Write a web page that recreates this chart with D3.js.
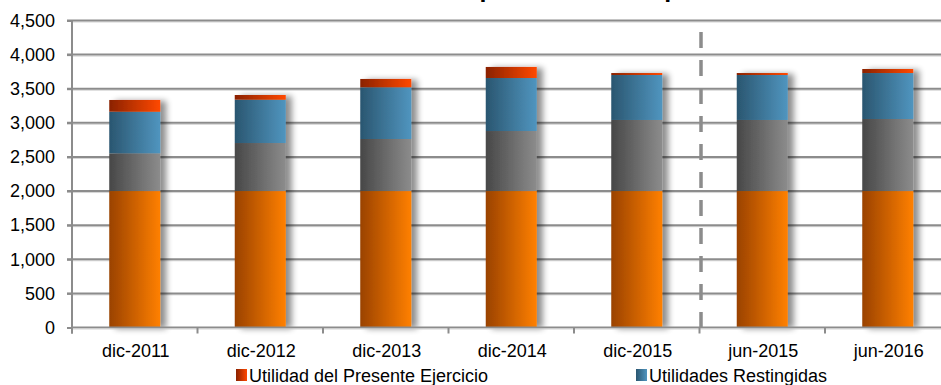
<!DOCTYPE html>
<html>
<head>
<meta charset="utf-8">
<script src="https://cdn.jsdelivr.net/npm/d3@7"></script>
<style>
  html, body { margin: 0; padding: 0; background: #fff; }
  svg { display: block; font-family: "Liberation Sans", Arial, sans-serif; }
</style>
</head>
<body>
<div id="chart"></div>
<script>
// Capital contable - stacked bars

const categories = ["dic-2011", "dic-2012", "dic-2013", "dic-2014", "dic-2015", "jun-2015", "jun-2016"];
const capitalSocial = [2000, 2000, 2000, 2000, 2000, 2000, 2000];
const reservas = [553, 704, 763, 880, 1042, 1042, 1056];
const utilidadesRestingidas = [610, 635, 758, 777, 659, 659, 674];
const utilidadEjercicio = [172, 69, 122, 162, 29, 29, 59];
const yTicks = [0, 500, 1000, 1500, 2000, 2500, 3000, 3500, 4000, 4500];
const seriesKeys = ["capital", "reservas", "restringidas", "ejercicio"];
const legendItems = [
  { key: "ejercicio", label: "Utilidad del Presente Ejercicio" },
  { key: "restringidas", label: "Utilidades Restingidas" }
];

const width = 941, height = 385;
const plotLeft = 72, plotTop = 20.5, plotBottom = 327.5;
const step = 125.5;

const rows = categories.map((c, i) => ({
  cat: c,
  capital: capitalSocial[i],
  reservas: reservas[i],
  restringidas: utilidadesRestingidas[i],
  ejercicio: utilidadEjercicio[i]
}));

const svg = d3.select("#chart").append("svg")
  .attr("width", width)
  .attr("height", height);

const defs = svg.append("defs");

// gradients, dark on the left, bright on the right
const grads = {
  capital: ["#9a4200", "#ff8000"],
  reservas: ["#474747", "#8c8c8c"],
  restringidas: ["#2a5670", "#5095bf"],
  ejercicio: ["#8a2200", "#ff4800"]
};
Object.entries(grads).forEach(([k, c]) => {
  const g = defs.append("linearGradient")
    .attr("id", "g-" + k)
    .attr("x1", "0%").attr("x2", "100%").attr("y1", "0%").attr("y2", "0%");
  g.append("stop").attr("offset", "0%").attr("stop-color", c[0]);
  g.append("stop").attr("offset", "100%").attr("stop-color", c[1]);
});

const shadow = defs.append("filter").attr("id", "shadow")
  .attr("x", "-20%").attr("y", "-10%").attr("width", "160%").attr("height", "130%");
shadow.append("feGaussianBlur").attr("in", "SourceAlpha").attr("stdDeviation", 3);
shadow.append("feOffset").attr("dx", 6).attr("dy", 1).attr("result", "off");
shadow.append("feComponentTransfer").append("feFuncA").attr("type", "linear").attr("slope", 0.45);
const merge = shadow.append("feMerge");
merge.append("feMergeNode");
merge.append("feMergeNode").attr("in", "SourceGraphic");

const x = d3.scaleBand()
  .domain(categories)
  .range([plotLeft, plotLeft + step * categories.length])
  .padding(0);

const y = d3.scaleLinear()
  .domain([0, 4500])
  .range([plotBottom, plotTop]);

const barW = 51;

// title (mostly cut off at the top of the picture, only descenders show)
svg.append("text")
  .attr("x", 424)
  .attr("y", -3)
  .attr("font-size", "25px")
  .attr("font-weight", "bold")
  .attr("fill", "#000")
  .text("Composición del Capital Contable");

// gridlines
const grid = svg.append("g");
grid.selectAll("line.sh")
  .data(yTicks.filter(d => d > 0))
  .join("line")
  .attr("class", "sh")
  .attr("x1", plotLeft).attr("x2", width)
  .attr("y1", d => y(d) + 1.5).attr("y2", d => y(d) + 1.5)
  .attr("stroke", "#d4d4d4").attr("stroke-width", 1);
grid.selectAll("line.gl")
  .data(yTicks.filter(d => d > 0))
  .join("line")
  .attr("class", "gl")
  .attr("x1", plotLeft - 5).attr("x2", width)
  .attr("y1", d => y(d)).attr("y2", d => y(d))
  .attr("stroke", "#8c8c8c").attr("stroke-width", 2);

// y axis
const yAxis = svg.append("g")
  .attr("transform", `translate(${plotLeft},0)`)
  .call(d3.axisLeft(y).tickValues(yTicks).tickSize(5).tickPadding(12)
    .tickFormat(d3.format(",")));
yAxis.select(".domain").attr("stroke", "#8c8c8c").attr("stroke-width", 2)
  .attr("d", `M0,${plotTop}V${plotBottom + 6}`);
yAxis.selectAll(".tick line").attr("stroke", "#8c8c8c").attr("stroke-width", 2);
yAxis.selectAll(".tick text")
  .attr("font-size", "18px")
  .attr("font-family", "Liberation Sans, Arial, sans-serif")
  .attr("fill", "#000");

// bars
const stack = d3.stack().keys(seriesKeys)(rows);
const bars = svg.append("g");
const groups = bars.selectAll("g.bar")
  .data(categories)
  .join("g")
  .attr("class", "bar")
  .attr("filter", "url(#shadow)");
groups.each(function(cat, i) {
  const g = d3.select(this);
  stack.forEach(s => {
    const d = s[i];
    g.append("rect")
      .attr("x", x(cat) + x.bandwidth() / 2 - barW / 2)
      .attr("width", barW)
      .attr("y", y(d[1]))
      .attr("height", y(d[0]) - y(d[1]))
      .attr("fill", "url(#g-" + s.key + ")");
  });
});

// x axis
const xAxisG = svg.append("g");
xAxisG.append("line")
  .attr("x1", plotLeft).attr("x2", width)
  .attr("y1", plotBottom).attr("y2", plotBottom)
  .attr("stroke", "#8c8c8c").attr("stroke-width", 2);
xAxisG.append("line")
  .attr("x1", plotLeft).attr("x2", width)
  .attr("y1", plotBottom + 1.5).attr("y2", plotBottom + 1.5)
  .attr("stroke", "#d4d4d4").attr("stroke-width", 1);
xAxisG.selectAll("line.tk")
  .data(categories)
  .join("line")
  .attr("class", "tk")
  .attr("x1", d => x(d)).attr("x2", d => x(d))
  .attr("y1", plotBottom).attr("y2", plotBottom + 6)
  .attr("stroke", "#8c8c8c").attr("stroke-width", 2);
xAxisG.selectAll("text")
  .data(categories)
  .join("text")
  .attr("x", d => x(d) + x.bandwidth() / 2 + 1)
  .attr("y", 357)
  .attr("text-anchor", "middle")
  .attr("font-size", "18px")
  .attr("fill", "#000")
  .text(d => d);

// dashed separator between dic-2015 and jun-2015
svg.append("line")
  .attr("x1", x("jun-2015") + 1.5).attr("x2", x("jun-2015") + 1.5)
  .attr("y1", y(4330)).attr("y2", plotBottom + 12)
  .attr("stroke", "#8c8c8c")
  .attr("stroke-width", 3.5)
  .attr("stroke-dasharray", "16,12");

// legend
const legend = svg.append("g");
const legendX = [236, 636];
legendItems.forEach((item, i) => {
  legend.append("rect")
    .attr("x", legendX[i]).attr("y", 369)
    .attr("width", 11).attr("height", 12)
    .attr("fill", "url(#g-" + item.key + ")");
  legend.append("text")
    .attr("x", legendX[i] + 13).attr("y", 382)
    .attr("font-size", "18px")
    .attr("fill", "#000")
    .text(item.label);
});
</script>
</body>
</html>
